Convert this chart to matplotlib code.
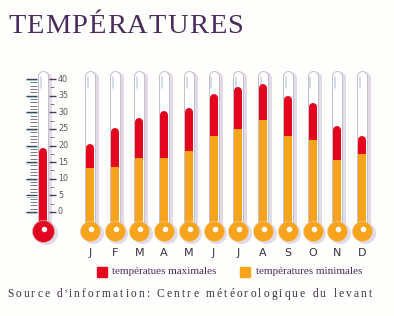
"""Monthly max / min temperatures drawn as a row of thermometers."""

import matplotlib

matplotlib.use("Agg")
import matplotlib.pyplot as plt
from matplotlib.patches import Rectangle

MONTHS = ["J", "F", "M", "A", "M", "J", "J", "A", "S", "O", "N", "D"]
T_MAX = [20.4, 25.3, 28.4, 30.4, 31.4, 35.6, 37.6, 38.4, 34.8, 32.8, 25.8, 22.8]
T_MIN = [13.1, 13.4, 16.1, 16.2, 18.4, 23.0, 25.1, 27.8, 23.0, 21.8, 15.6, 17.4]
SCALE_TICKS = [0, 5, 10, 15, 20, 25, 30, 35, 40]
DECOR_LEVEL = 19.2          # level shown in the big scale thermometer
TUBE_TOP = 42.7             # top of the glass tubes
BULB_Y = -5.7               # bulb centre, in degrees

RED = "#e4051f"
ORANGE = "#f7a41c"
GLASS = "#c3bfcb"
SHADOW = "#e2dae6"
INK = "#4a2c5c"

W, H = 394, 316
X0, DX = 90.0, 24.73        # pixel of month 0, pixels per month
Y0, DY = 212.0, 3.325       # pixel row of 0 degrees, pixels per degree


def pt(px):
    return px * 72 / 100


def thermometer(ax, x, hi, lo, fill_lo, bulb_color, bulb_px=20):
    top = TUBE_TOP - 5.5 / DY
    # shadow
    ax.plot([x + 3 / DX, x + 3 / DX], [BULB_Y - 2 / DY, top - 2 / DY],
            color=SHADOW, lw=pt(12), solid_capstyle="round", zorder=1)
    ax.scatter([x + 2.5 / DX], [BULB_Y - 2 / DY], s=pt(bulb_px + 1) ** 2,
               color=SHADOW, zorder=1, linewidths=0)
    # glass
    ax.plot([x, x], [BULB_Y, top], color=GLASS, lw=pt(11),
            solid_capstyle="round", zorder=2)
    ax.plot([x, x], [BULB_Y, top], color="white", lw=pt(9),
            solid_capstyle="round", zorder=3)
    ax.plot([x - 2.2 / DX, x - 2.2 / DX], [top - 12 / DY, top - 1 / DY],
            color="#c9d4e6", lw=pt(1.6), solid_capstyle="round", zorder=4)
    # liquid
    ax.plot([x, x], [BULB_Y, hi - 4 / DY], color=RED, lw=pt(8),
            solid_capstyle="round", zorder=5)
    if lo is not None:
        ax.plot([x, x], [BULB_Y, lo], color=fill_lo, lw=pt(8),
                solid_capstyle="butt", zorder=6)
    # bulb
    ax.scatter([x], [BULB_Y], s=pt(bulb_px) ** 2, color=bulb_color,
               edgecolors="#e8c9a0" if bulb_color == ORANGE else "#d9b0b8",
               linewidths=0.5, zorder=7)
    ax.scatter([x + 1 / DX], [BULB_Y + 1.5 / DY], s=pt(5.5) ** 2,
               color="white", linewidths=0, zorder=8)


def spaced_text(fig, x_px, y_px, s, width_px, **kw):
    """Draw s one glyph at a time so it spans width_px pixels."""
    r = fig.canvas.get_renderer()
    widths = []
    for ch in s:
        t = fig.text(0, 0, ch if ch != " " else "n", **kw)
        widths.append(t.get_window_extent(r).width * (0.55 if ch == " " else 1.0))
        t.remove()
    gap = (width_px - sum(widths)) / (len(s) - 1)
    x = x_px
    for ch, w in zip(s, widths):
        if ch != " ":
            fig.text(x / W, 1 - y_px / H, ch, ha="left", va="baseline", **kw)
        x += w + gap


fig = plt.figure(figsize=(W / 100, H / 100), dpi=100, facecolor="#fefefc")
ax = fig.add_axes([0, 0, 1, 1])
ax.set_xlim(-X0 / DX, (W - X0) / DX)
ax.set_ylim((Y0 - H) / DY, Y0 / DY)
ax.axis("off")

# scale thermometer on the left
xs = (43 - X0) / DX
thermometer(ax, xs, DECOR_LEVEL, None, RED, RED, bulb_px=22)
for t in range(0, 41):
    if t % 5 == 0:
        ax.hlines(t, (26 - X0) / DX, (37 - X0) / DX, color="#4e3d58", lw=1.0, zorder=2)
        ax.hlines(t - 0.35, (26 - X0) / DX, (37 - X0) / DX, color="#7fd3d0", lw=0.6, zorder=2)
    else:
        ax.hlines(t, (30 - X0) / DX, (37 - X0) / DX, color="#6d5e75", lw=0.6, zorder=2)
for t in SCALE_TICKS:
    ax.hlines(t, (49 - X0) / DX, (56 - X0) / DX, color="#4e3d58", lw=1.0, zorder=2)
    if t < 40:
        ax.hlines(t + 2.5, (50 - X0) / DX, (54 - X0) / DX, color="#6d5e75", lw=0.6, zorder=2)
    ax.text((58 - X0) / DX, t, str(t), fontsize=5.8, color="#555555",
            ha="left", va="center", family="DejaVu Sans")

for i, (m, hi, lo) in enumerate(zip(MONTHS, T_MAX, T_MIN)):
    thermometer(ax, i, hi, lo, ORANGE, ORANGE)
    ax.text(i, (Y0 - 253) / DY, m, fontsize=8, color="#3a3340",
            ha="center", va="center", family="DejaVu Sans")

spaced_text(fig, 8, 33, "TEMPÉRATURES", 235, fontsize=20.5, color=INK,
            family="Liberation Serif")

fig.add_artist(Rectangle((97 / W, 1 - 277 / H), 10 / W, 10 / H,
                         transform=fig.transFigure, color=RED))
fig.text(112 / W, 1 - 272 / H, "températues maximales", fontsize=8, color=INK,
         family="Liberation Serif", ha="left", va="center")
fig.add_artist(Rectangle((240 / W, 1 - 277 / H), 10 / W, 10 / H,
                         transform=fig.transFigure, color=ORANGE))
fig.text(256 / W, 1 - 272 / H, "températures minimales", fontsize=8, color=INK,
         family="Liberation Serif", ha="left", va="center")

spaced_text(fig, 7, 297, "Source d'information: Centre météorologique du levant",
            365, fontsize=8.3, color="#3a2e44", family="Liberation Serif")

fig.savefig("out.png", dpi=100, facecolor=fig.get_facecolor())
